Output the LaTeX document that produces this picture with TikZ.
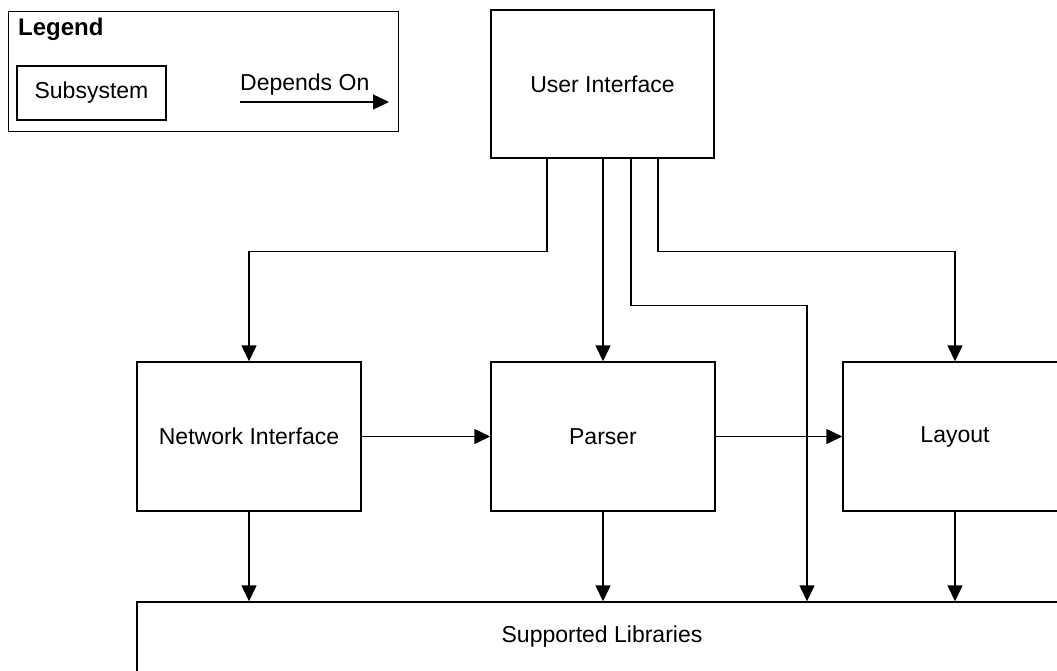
\documentclass[tikz,border=0pt]{standalone}
\usepackage{fontspec}
\setmainfont{Liberation Sans}
\usetikzlibrary{arrows.meta}
\begin{document}
\begin{tikzpicture}[x=1pt,y=-1pt,
  box/.style={draw,line width=1.4pt,inner sep=0pt,font=\fontsize{23}{27}\selectfont},
  dep/.style={line width=1.4pt,-{Triangle[length=16pt,width=15pt]}},
  lbl/.style={inner sep=0pt,font=\fontsize{23}{27}\selectfont}]
\useasboundingbox (0,0) rectangle (1057,671);
\clip (0,0) rectangle (1057,671);
\fill[white] (0,0) rectangle (1057,671);
% legend
\node[draw,line width=1.4pt,inner sep=0pt,minimum width=390pt,minimum height=120pt,anchor=north west] (legend) at (8,11) {};
\node[lbl,anchor=base west,font=\fontsize{24}{28}\selectfont\bfseries] (legtitle) at (18,36) {Legend};
\node[box,minimum width=149pt,minimum height=54pt] (sub) at (91.5,93) {Subsystem};
\coordinate (da) at (240,102);
\coordinate (db) at (389,102);
\draw[dep] (da) -- (db);
\node[lbl,anchor=base west] (deptext) at (240,91) {Depends On};
% boxes
\node[box,minimum width=223pt,minimum height=148pt] (ui) at (602.5,84) {User Interface};
\node[box,minimum width=224pt,minimum height=149pt] (ni) at (249,436.5) {Network Interface};
\node[box,minimum width=224pt,minimum height=149pt] (parser) at (603,436.5) {Parser};
\node[box,minimum width=224pt,minimum height=149pt] (layout) at (955,436.5) {Layout};
\node[box,minimum width=930pt,minimum height=70pt] (sl) at (602,637) {Supported Libraries};
% connectors
\draw[dep] ([xshift=-55.5pt]ui.south) -- ++(0,93) -| (ni.north);
\draw[dep] (ui.south -| parser.north) -- (parser.north);
\draw[dep] ([xshift=28.5pt]ui.south) -- ++(0,147) -| ([xshift=205pt]sl.north);
\draw[dep] ([xshift=55.5pt]ui.south) -- ++(0,93) -| (layout.north);
\draw[dep] (ni.east) -- (parser.west);
\draw[dep] (parser.east) -- (layout.west);
\draw[dep] (ni.south) -- (ni.south |- sl.north);
\draw[dep] (parser.south) -- (parser.south |- sl.north);
\draw[dep] (layout.south) -- (layout.south |- sl.north);
\end{tikzpicture}
\end{document}
